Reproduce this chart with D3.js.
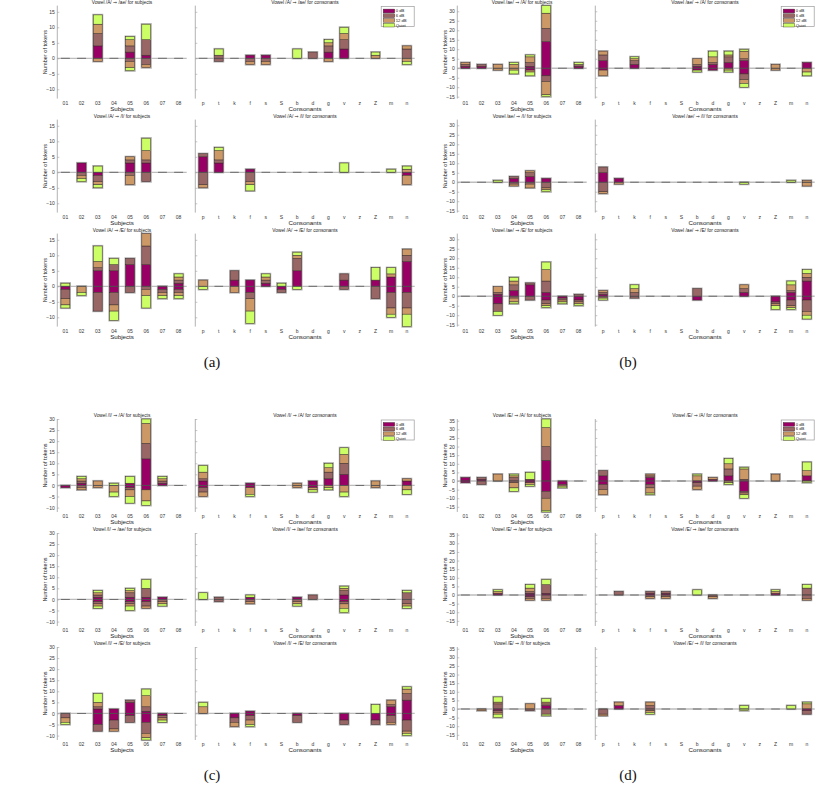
<!DOCTYPE html>
<html><head><meta charset="utf-8">
<script src="https://cdn.jsdelivr.net/npm/d3@7"></script>
<style>body{margin:0;background:#fff} svg{display:block}</style>
</head><body>
<svg id="chart" width="830" height="794"></svg>
<script>
const subjects = ["01","02","03","04","05","06","07","08"];
const consonants = ["p","t","k","f","s","S","b","d","g","v","z","Z","m","n"];
const seriesNames = ["0 dB","6 dB","12 dB","Quiet"];
const seriesColors = ["#990066","#996666","#cc9966","#ccff66"];
const panelLabels = ["(a)","(b)","(c)","(d)"];
const panelFrom = ["/A/","/ae/","/I/","/E/"];
const panelTo = [["/ae/","/I/","/E/"],["/A/","/I/","/E/"],["/A/","/ae/","/E/"],["/A/","/ae/","/I/"]];
const panelYDomain = [[-13,17],[-16,33],[-12,30],[-18,36]];
const panelYTicks = [[-10,-5,0,5,10,15],[-15,-10,-5,0,5,10,15,20,25,30],[-10,-5,0,5,10,15,20,25,30],[-15,-10,-5,0,5,10,15,20,25,30,35]];

// each row: [+0dB,+6dB,+12dB,+Quiet, -0dB,-6dB,-12dB,-Quiet]
const A1s = [[0,0,0,0,0,0,0,0],[0,0,0,0,0,0,0,0],[4,4,3,3,0,0,1,0],[0,0,0,0,0,0,0,0],[2,2,2,1,0,1,2,1],[1,5,0,5,0,2,1,0],[0,0,0,0,0,0,0,0],[0,0,0,0,0,0,0,0]];
const A1c = [[0,0,0,0,0,0,0,0],[0,1,0,2,0,1,0,0],[0,0,0,0,0,0,0,0],[1,0,0,0,0,1,1,0],[1,0,0,0,0,1,1,0],[0,0,0,0,0,0,0,0],[0,0,0,3,0,0,0,0],[0,2,0,0,0,0,0,0],[2,2,1,1,0,0,1,0],[3,3,2,2,0,0,0,0],[0,0,0,0,0,0,0,0],[0,0,1,1,0,0,0,0],[0,0,0,0,0,0,0,0],[0,3,1,0,0,0,1,1]];
const A2s = [[0,0,0,0,0,0,0,0],[3,0,0,0,0,1,1,1],[0,0,0,2,1,2,1,1],[0,0,0,0,0,0,0,0],[3,1,1,0,0,1,3,0],[3,1,3,4,0,3,0,0],[0,0,0,0,0,0,0,0],[0,0,0,0,0,0,0,0]];
const A2c = [[5,1,0,0,0,4,1,0],[3,1,3,1,0,0,0,0],[0,0,0,0,0,0,0,0],[1,0,0,0,0,3,1,2],[0,0,0,0,0,0,0,0],[0,0,0,0,0,0,0,0],[0,0,0,0,0,0,0,0],[0,0,0,0,0,0,0,0],[0,0,0,0,0,0,0,0],[0,0,0,3,0,0,0,0],[0,0,0,0,0,0,0,0],[0,0,0,0,0,0,0,0],[0,0,0,1,0,0,0,0],[0,0,1,1,1,0,3,0]];
const A3s = [[0,0,0,1,1,3,2,1],[0,0,0,0,0,0,2,1],[5,1,2,5,2,6,0,0],[5,2,0,2,2,4,2,3],[7,2,0,0,0,2,0,0],[7,6,4,0,0,1,2,4],[0,0,0,0,1,1,1,1],[1,1,1,1,1,1,1,1]];
const A3c = [[0,0,2,0,0,0,0,1],[0,0,0,0,0,0,0,0],[2,3,0,0,0,0,2,0],[2,0,0,0,2,2,4,4],[1,1,1,1,0,0,0,0],[0,0,0,1,1,1,0,0],[5,4,1,1,0,0,0,1],[0,0,0,0,0,0,0,0],[0,0,0,0,0,0,0,0],[2,2,0,0,0,1,0,0],[0,0,0,0,0,0,0,0],[2,0,0,4,0,4,0,0],[3,0,1,2,2,5,2,1],[8,2,2,0,2,5,2,4]];

const B1s = [[1,1,1,0,0,0,0,0],[1,1,0,0,0,0,0,0],[0,0,2,0,0,0,1,0],[0,0,2,1,0,0,1,2],[1,2,3,1,1,0,1,2],[14,7,8,4,4,3,7,1],[0,0,0,0,0,0,0,0],[1,1,0,1,0,0,0,0]];
const B1c = [[4,3,2,0,1,0,3,0],[0,0,0,0,0,0,0,0],[2,2,1,1,0,0,0,0],[0,0,0,0,0,0,0,0],[0,0,0,0,0,0,0,0],[0,0,0,0,0,0,0,0],[1,1,3,0,1,0,0,1],[2,1,3,3,1,0,0,0],[3,3,1,2,0,0,1,1],[4,1,4,1,3,3,2,2],[0,0,0,0,0,0,0,0],[0,0,2,0,0,0,1,0],[0,0,0,0,0,0,0,0],[3,0,0,0,0,0,2,2]];
const B2s = [[0,0,0,0,0,0,0,0],[0,0,0,0,0,0,0,0],[0,0,0,1,0,0,0,0],[2,1,0,0,0,1,1,0],[3,2,1,0,0,1,2,0],[2,0,0,0,0,3,1,1],[0,0,0,0,0,0,0,0],[0,0,0,0,0,0,0,0]];
const B2c = [[5,3,0,0,0,5,1,0],[2,0,0,0,0,0,1,0],[0,0,0,0,0,0,0,0],[0,0,0,0,0,0,0,0],[0,0,0,0,0,0,0,0],[0,0,0,0,0,0,0,0],[0,0,0,0,0,0,0,0],[0,0,0,0,0,0,0,0],[0,0,0,0,0,0,0,0],[0,0,0,0,0,0,0,1],[0,0,0,0,0,0,0,0],[0,0,0,0,0,0,0,0],[0,0,0,1,0,0,0,0],[0,0,1,0,0,0,2,0]];
const B3s = [[0,0,0,0,0,0,0,0],[0,0,0,0,0,0,0,0],[1,1,3,0,4,4,0,2],[3,3,2,2,0,1,2,1],[6,1,0,0,0,2,0,0],[2,6,6,4,2,2,1,1],[0,0,0,0,1,1,1,1],[0,1,0,0,2,1,1,1]];
const B3c = [[1,1,1,0,0,1,0,1],[0,0,0,0,0,0,0,0],[0,2,2,2,0,1,0,0],[0,0,0,0,0,0,0,0],[0,0,0,0,0,0,0,0],[0,0,0,0,0,0,0,0],[0,4,0,0,2,0,0,0],[0,0,0,0,0,0,0,0],[0,0,0,0,0,0,0,0],[2,2,2,0,0,0,0,0],[0,0,0,0,0,0,0,0],[0,0,0,0,3,1,1,2],[2,1,3,2,2,3,1,1],[8,2,2,2,2,6,2,2]];

const C1s = [[0,0,0,0,1,0,0,0],[1,1,1,1,0,1,1,0],[0,0,2,0,0,0,1,0],[0,0,0,1,0,0,3,2],[1,0,0,3,1,1,3,3],[12,7,9,2,2,0,5,2],[1,1,1,1,0,0,0,0],[0,0,0,0,0,0,0,0]];
const C1c = [[2,1,3,3,1,2,2,0],[0,0,0,0,0,0,0,0],[0,0,0,0,0,0,0,0],[1,0,0,0,1,0,3,1],[0,0,0,0,0,0,0,0],[0,0,0,0,0,0,0,0],[0,0,1,0,0,0,1,0],[2,0,0,0,1,0,1,1],[3,3,2,2,0,0,1,1],[5,5,4,3,0,0,3,2],[0,0,0,0,0,0,0,0],[0,0,2,0,0,0,1,0],[0,0,0,0,0,0,0,0],[2,0,1,0,0,0,2,2]];
const C2s = [[0,0,0,0,0,0,0,0],[0,0,0,0,0,0,0,0],[1,1,1,1,1,1,1,1],[0,0,0,0,0,0,0,0],[1,2,1,1,1,1,1,2],[1,4,0,4,1,2,1,0],[1,0,0,0,0,1,1,1],[0,0,0,0,0,0,0,0]];
const C2c = [[0,0,0,3,0,0,0,0],[0,1,0,0,0,1,0,0],[0,0,0,0,0,0,0,0],[1,0,0,1,0,1,1,0],[0,0,0,0,0,0,0,0],[0,0,0,0,0,0,0,0],[1,0,0,0,0,1,1,1],[0,2,0,0,0,0,0,0],[0,0,0,0,0,0,0,0],[2,2,1,1,1,1,2,2],[0,0,0,0,0,0,0,0],[0,0,0,0,0,0,0,0],[0,0,0,0,0,0,0,0],[0,3,0,1,0,2,1,1]];
const C3s = [[0,0,0,0,0,2,2,1],[0,0,0,0,0,0,0,0],[2,1,2,4,5,3,0,0],[2,0,0,0,3,4,1,0],[5,1,0,0,1,3,0,0],[1,2,5,3,4,5,2,1],[0,0,0,0,1,1,1,1],[0,0,0,0,0,0,0,0]];
const C3c = [[0,0,3,2,0,0,0,0],[0,0,0,0,0,0,0,0],[0,0,0,0,2,2,2,0],[1,0,0,0,1,2,2,1],[0,0,0,0,0,0,0,0],[0,0,0,0,0,0,0,0],[0,0,0,0,1,3,0,0],[0,0,0,0,0,0,0,0],[0,0,0,0,0,0,0,0],[0,0,0,0,3,2,0,0],[0,0,0,0,0,0,0,0],[0,0,0,4,3,2,0,0],[3,1,2,0,1,3,1,0],[6,3,2,1,3,5,1,1]];

const D1s = [[2,0,0,0,1,0,0,0],[1,1,0,0,0,2,0,0],[0,0,4,0,0,0,0,0],[0,2,1,1,0,1,3,2],[1,0,0,4,1,0,1,1],[12,8,11,5,6,4,7,1],[0,0,0,0,2,1,0,1],[0,0,0,0,0,0,0,0]];
const D1c = [[3,3,0,0,2,3,3,0],[0,0,0,0,0,0,0,0],[0,0,0,0,0,0,0,0],[2,1,1,0,2,2,3,1],[0,0,0,0,0,0,0,0],[0,0,0,0,0,0,0,0],[0,0,3,1,1,2,2,0],[1,0,1,0,0,0,0,0],[3,4,3,3,0,0,1,1],[0,1,6,1,6,1,1,2],[0,0,0,0,0,0,0,0],[0,0,4,0,0,0,0,0],[0,0,0,0,0,0,0,0],[3,0,3,5,0,0,0,1]];
const D2s = [[0,0,0,0,0,0,0,0],[0,0,0,0,0,0,0,0],[1,0,1,1,0,0,0,0],[0,0,0,0,0,0,0,0],[1,1,2,2,1,1,1,0],[1,5,0,3,0,2,1,0],[0,0,0,0,0,0,0,0],[0,0,0,0,0,0,0,0]];
const D2c = [[0,0,0,0,0,0,0,0],[0,2,0,0,0,0,0,0],[0,0,0,0,0,0,0,0],[1,1,0,0,0,1,1,0],[1,1,0,0,0,1,1,0],[0,0,0,0,0,0,0,0],[0,0,0,3,0,0,0,0],[0,0,0,0,0,1,1,0],[0,0,0,0,0,0,0,0],[0,0,0,0,0,0,0,0],[0,0,0,0,0,0,0,0],[1,0,1,1,0,0,0,0],[0,0,0,0,0,0,0,0],[0,4,0,2,0,2,1,0]];
const D3s = [[0,0,0,0,0,0,0,0],[0,0,0,0,0,0,1,0],[0,3,1,3,1,1,1,2],[0,0,0,0,0,0,0,0],[0,0,3,0,0,1,0,0],[2,1,1,2,0,3,0,1],[0,0,0,0,0,0,0,0],[0,0,0,0,0,0,0,0]];
const D3c = [[0,0,0,0,0,3,1,0],[2,0,2,0,0,0,0,0],[0,0,0,0,0,0,0,0],[0,2,2,0,0,1,1,1],[0,0,0,0,0,0,0,0],[0,0,0,0,0,0,0,0],[0,0,0,0,0,0,0,0],[0,0,0,0,0,0,0,0],[0,0,0,0,0,0,0,0],[0,0,0,2,0,0,0,1],[0,0,0,0,0,0,0,0],[0,0,0,0,0,0,0,0],[0,0,0,2,0,0,0,0],[0,0,3,1,1,2,0,0]];

const panelData = [
  [[A1s,A1c],[A2s,A2c],[A3s,A3c]],
  [[B1s,B1c],[B2s,B2c],[B3s,B3c]],
  [[C1s,C1c],[C2s,C2c],[C3s,C3c]],
  [[D1s,D1c],[D2s,D2c],[D3s,D3c]]
];

// ---------- layout ----------
const svg = d3.select("#chart");
const FONT = "'Liberation Sans', Arial, sans-serif";
const halfX = [0, 400, 0, 400];
const halfY = [0, 0, 413.4, 413.4];
const captionX = [212, 228, 212, 228];
const subjRange = [57.3, 186.7];
const consRange = [195.3, 414.7];
const rowTop0 = 5.6, rowStep = 114, plotH = 93;

function drawPlot(g, cats, rows, yScale, ticks, xr, top, showLabels) {
  const x = d3.scaleBand().domain(cats).range(xr).paddingInner(0.45).paddingOuter(0.225);
  const bottom = top + plotH;
  g.append("line").attr("x1", xr[0]).attr("x2", xr[1])
    .attr("y1", yScale(0)).attr("y2", yScale(0))
    .attr("stroke", "#bdbdbd").attr("stroke-width", 1.3);
  const ax = d3.axisLeft(yScale).tickValues(ticks).tickSize(-2).tickPadding(2.5)
    .tickFormat(showLabels ? d3.format("d") : "");
  const ag = g.append("g").attr("transform", `translate(${xr[0]},0)`).call(ax);
  ag.select(".domain").attr("stroke", "#a0a0a0").attr("stroke-width", 0.8)
    .attr("d", `M0,${top}V${bottom}`);
  ag.selectAll(".tick line").attr("stroke", "#a0a0a0").attr("stroke-width", 0.6);
  ag.selectAll(".tick text").attr("font-size", 5).attr("font-family", FONT).attr("fill", "#333");
  const xg = g.append("g").attr("transform", `translate(0,${bottom})`)
    .call(d3.axisBottom(x).tickSize(0).tickPadding(2.5));
  xg.select(".domain").remove();
  xg.selectAll(".tick text").attr("font-size", 5).attr("font-family", FONT).attr("fill", "#333");
  rows.forEach((v, i) => {
    const cx = x(cats[i]);
    const bw = x.bandwidth();
    const segs = [];
    let acc = 0;
    for (let s = 0; s < 4; s++) if (v[s] > 0) { segs.push({s, a: acc, b: acc + v[s]}); acc += v[s]; }
    const posTot = acc;
    acc = 0;
    for (let s = 0; s < 4; s++) if (v[4 + s] > 0) { segs.push({s, a: acc - v[4 + s], b: acc}); acc -= v[4 + s]; }
    const negTot = acc;
    const bg = g.append("g");
    bg.append("rect").attr("x", cx).attr("width", bw)
      .attr("y", yScale(posTot)).attr("height", Math.max(0, yScale(negTot) - yScale(posTot)))
      .attr("fill", "none").attr("stroke", "#b0b0b0").attr("stroke-width", 2.2);
    bg.selectAll("rect.seg").data(segs).join("rect").attr("class", "seg")
      .attr("x", cx).attr("width", bw)
      .attr("y", d => yScale(d.b)).attr("height", d => yScale(d.a) - yScale(d.b))
      .attr("fill", d => seriesColors[d.s]).attr("stroke", "#3a2a2a").attr("stroke-width", 0.5);
    bg.append("line").attr("x1", cx).attr("x2", cx + bw)
      .attr("y1", yScale(0)).attr("y2", yScale(0))
      .attr("stroke", "#555").attr("stroke-width", 0.8);
  });
  return x;
}

function addTitle(g, x, y, from, to, tail) {
  const t = g.append("text").attr("x", x).attr("y", y).attr("text-anchor", "middle")
    .attr("font-size", 4.8).attr("font-family", FONT).attr("fill", "#222");
  t.append("tspan").text(`Vowel ${from} `);
  t.append("tspan").attr("font-family", "'DejaVu Sans', sans-serif").text("\u2192");
  t.append("tspan").text(` ${to}${tail}`);
}

panelData.forEach((pd, p) => {
  const gp = svg.append("g").attr("transform", `translate(${halfX[p]},${halfY[p]})`);
  pd.forEach((rowPair, r) => {
    const top = rowTop0 + r * rowStep;
    const y = d3.scaleLinear().domain(panelYDomain[p]).range([top + plotH, top]);
    drawPlot(gp, subjects, rowPair[0], y, panelYTicks[p], subjRange, top, true);
    drawPlot(gp, consonants, rowPair[1], y, panelYTicks[p], consRange, top, false);
    [[subjRange, " for subjects", "Subjects"], [consRange, " for consonants", "Consonants"]].forEach(([xr, t, lab]) => {
      const cx = (xr[0] + xr[1]) / 2;
      addTitle(gp, cx, top - 1.8, panelFrom[p], panelTo[p][r], t);
      gp.append("text").attr("x", cx).attr("y", top + plotH + 12).attr("text-anchor", "middle")
        .attr("font-size", 6.2).attr("font-family", FONT).attr("fill", "#222").text(lab);
    });
    gp.append("text").attr("transform", `translate(${subjRange[0] - 10},${top + plotH / 2}) rotate(-90)`)
      .attr("text-anchor", "middle").attr("font-size", 5.6).attr("font-family", FONT).attr("fill", "#222")
      .text("Number of tokens");
    if (r === 0) {
      const lx = consRange[1] - 33.5, ly = top + 1;
      const lg = gp.append("g");
      lg.append("rect").attr("x", lx).attr("y", ly).attr("width", 33).attr("height", 20)
        .attr("fill", "#fff").attr("stroke", "#9a9a9a").attr("stroke-width", 0.7);
      seriesNames.forEach((n, i) => {
        const yy = ly + 2.5 + i * 4.7;
        lg.append("rect").attr("x", lx + 2).attr("y", yy).attr("width", 11.5).attr("height", 3.8)
          .attr("fill", seriesColors[i]).attr("stroke", "#3a2a2a").attr("stroke-width", 0.4);
        lg.append("text").attr("x", lx + 14.5).attr("y", yy + 3.3).attr("font-size", 4.2)
          .attr("font-family", FONT).attr("fill", "#222").text(n);
      });
    }
  });
  gp.append("text").attr("x", captionX[p]).attr("y", 367).attr("text-anchor", "middle")
    .attr("font-size", 15).attr("font-family", "'Liberation Serif', 'DejaVu Serif', serif")
    .attr("fill", "#111").text(panelLabels[p]);
});
</script>
</body></html>
